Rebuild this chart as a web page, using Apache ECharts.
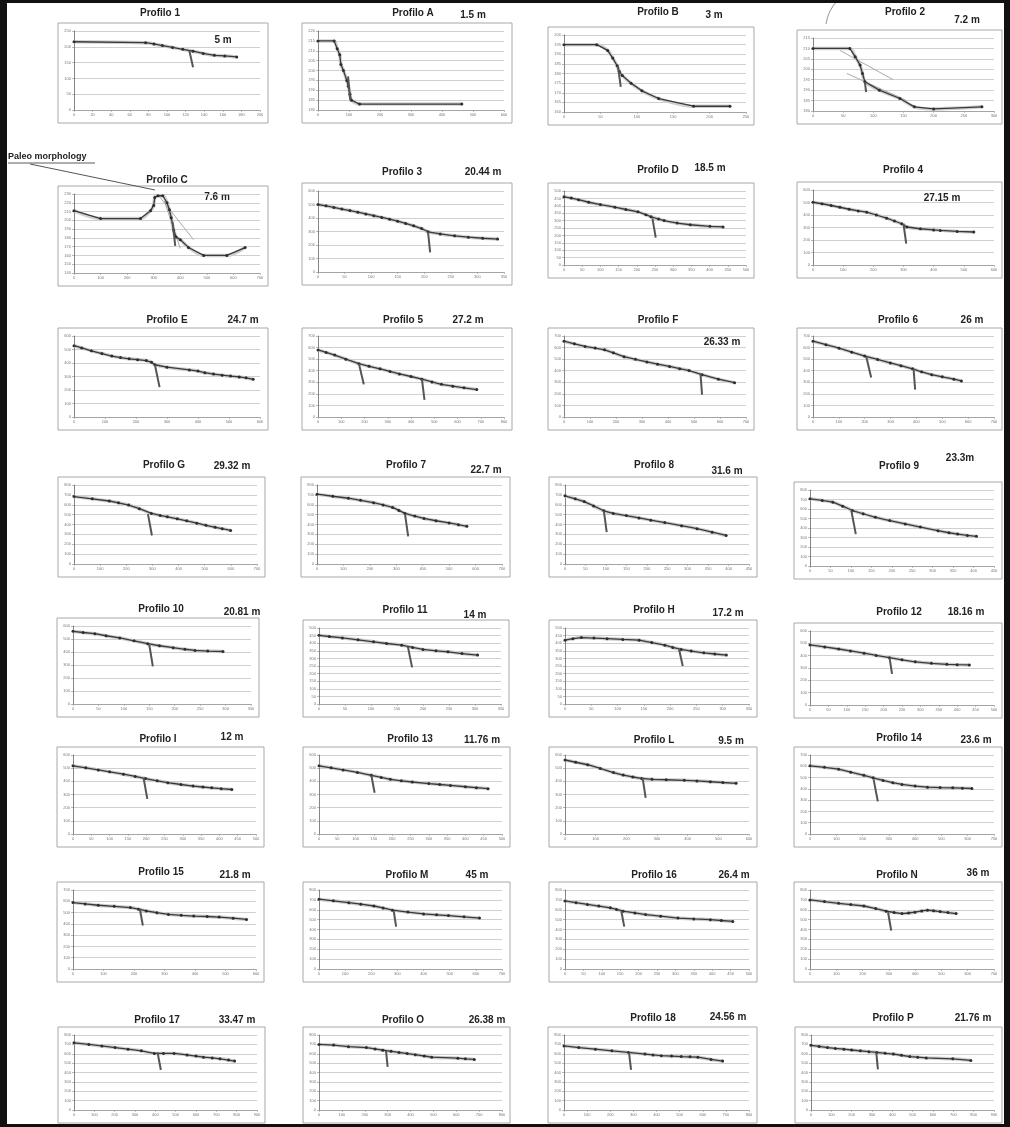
<!DOCTYPE html>
<html><head><meta charset="utf-8">
<script src="https://cdn.jsdelivr.net/npm/echarts@6/dist/echarts.min.js"></script>
<style>html,body{margin:0;padding:0;background:#fff}#c{width:1010px;height:1127px}</style>
</head><body><div id="c"></div>
<script>
// ---------- DATA ----------
const titles = ['Profilo 1','Profilo A','Profilo B','Profilo 2','Profilo C','Profilo 3','Profilo D','Profilo 4',
 'Profilo E','Profilo 5','Profilo F','Profilo 6','Profilo G','Profilo 7','Profilo 8','Profilo 9',
 'Profilo 10','Profilo 11','Profilo H','Profilo 12','Profilo I','Profilo 13','Profilo L','Profilo 14',
 'Profilo 15','Profilo M','Profilo 16','Profilo N','Profilo 17','Profilo O','Profilo 18','Profilo P'];
const depths = ['5 m','1.5 m','3 m','7.2 m','7.6 m','20.44 m','18.5 m','27.15 m',
 '24.7 m','27.2 m','26.33 m','26 m','29.32 m','22.7 m','31.6 m','23.3m',
 '20.81 m','14 m','17.2 m','18.16 m','12 m','11.76 m','9.5 m','23.6 m',
 '21.8 m','45 m','26.4 m','36 m','33.47 m','26.38 m','24.56 m','21.76 m'];
const xMax  = [200,600,250,300,700,350,500,600, 600,800,700,700,700,700,450,450, 350,350,350,500,500,500,600,700, 600,700,500,700,900,800,800,900];
const xStep = [20,100,50,50,100,50,50,100, 100,100,100,100,100,100,50,50, 50,50,50,50,50,50,100,100, 100,100,50,100,100,100,100,100];
const yMin  = [0,180,160,180,140,0,0,0, 0,0,0,0,0,0,0,0, 0,0,0,0,0,0,0,0, 0,0,0,0,0,0,0,0];
const yMax  = [250,220,200,215,230,600,500,600, 600,700,700,700,800,800,800,800, 600,500,500,600,600,600,600,700, 700,800,800,800,800,800,800,800];
const yStep = [50,5,5,5,10,100,50,100, 100,100,100,100,100,100,100,100, 100,50,50,100,100,100,100,100, 100,100,100,100,100,100,100,100];

const p1 = [[0,216],[77,213],[86,209],[95,204],[106,198],[117,192],[128,186],[139,179],[151,173],[162,171],[175,168]];
const pA = [[0,215],[52,215],[62,211],[70,208],[74,203],[82,200],[93,195],[98,192],[103,188],[108,185],[134,183],[464,183]];
const pB = [[0,195],[45,195],[60,192],[67,188],[73,184],[76,181],[80,179],[92,175],[107,171],[130,167],[178,163],[228,163]];
const p2 = [[0,210],[61,210],[70,206],[78,202],[82,198],[86,194],[110,190],[144,186],[168,182],[200,181],[280,182]];
const pC = [[0,211],[100,202],[250,202],[288,211],[300,217],[304,226],[316,228],[334,228],[350,220],[359,212],[366,203],[375,189],[384,181],[400,178],[431,169],[488,160],[575,160],[644,169]];
const p3 = [[0,500],[15,490],[30,478],[45,466],[60,455],[75,443],[90,430],[105,417],[120,404],[135,391],[150,376],[165,360],[180,342],[195,322],[207,298],[230,282],[257,268],[283,258],[310,250],[338,244]];
const pD = [[0,461],[20,452],[40,441],[68,424],[100,408],[140,391],[170,375],[203,359],[225,340],[239,326],[260,310],[275,300],[311,283],[347,272],[401,261],[437,257]];
const p4 = [[0,502],[30,490],[60,476],[89,462],[120,446],[150,433],[178,423],[210,400],[244,375],[270,352],[294,330],[311,304],[356,290],[400,281],[422,277],[478,269],[533,264]];
const pE = [[0,528],[25,512],[56,490],[90,470],[122,451],[150,440],[178,431],[205,425],[233,418],[250,405],[261,387],[300,369],[372,349],[400,340],[422,328],[450,318],[478,310],[505,303],[533,297],[555,290],[578,279]];
const p5 = [[0,580],[35,558],[72,535],[120,500],[176,461],[220,438],[267,416],[310,394],[350,372],[400,350],[447,327],[490,303],[531,282],[580,266],[628,252],[683,237]];
const pF = [[0,655],[40,632],[81,610],[120,596],[156,581],[190,555],[231,521],[275,498],[319,476],[360,456],[406,437],[445,418],[481,401],[531,366],[594,327],[656,297]];
const p6 = [[0,655],[50,625],[101,595],[150,560],[200,527],[250,497],[299,467],[340,443],[385,416],[420,390],[459,366],[500,347],[545,327],[574,312]];
const pG = [[0,683],[70,660],[135,638],[170,620],[209,597],[250,560],[296,512],[330,492],[357,478],[395,458],[431,437],[470,413],[505,392],[540,372],[567,358],[599,340]];
const p7 = [[0,707],[60,686],[119,666],[165,645],[214,621],[250,598],[286,573],[310,543],[333,512],[370,486],[405,461],[450,438],[500,416],[535,398],[567,382]];
const p8 = [[0,690],[25,660],[47,632],[70,588],[95,539],[118,512],[150,490],[181,467],[210,444],[244,419],[285,388],[323,358],[360,322],[394,289]];
const p9 = [[0,707],[30,690],[56,672],[80,630],[104,584],[130,550],[160,513],[195,478],[233,443],[270,410],[313,372],[340,350],[361,336],[385,322],[407,312]];
const p10 = [[0,559],[20,550],[43,541],[65,525],[92,508],[120,486],[147,464],[170,448],[197,433],[220,421],[240,412],[265,407],[295,404]];
const p11 = [[0,452],[20,444],[45,435],[75,422],[105,409],[130,398],[159,387],[180,372],[200,359],[225,350],[248,343],[275,332],[305,322]];
const pH = [[0,420],[15,430],[31,437],[55,434],[80,430],[110,425],[141,420],[165,404],[190,387],[205,372],[221,359],[240,348],[264,337],[285,329],[307,322]];
const p12 = [[0,487],[40,471],[78,454],[110,438],[147,420],[180,402],[216,384],[250,366],[286,350],[330,338],[372,330],[400,327],[433,325]];
const pI = [[0,518],[35,503],[69,487],[100,472],[138,454],[170,437],[198,421],[230,404],[259,390],[295,376],[328,364],[355,357],[379,351],[405,344],[434,338]];
const p13 = [[0,518],[33,503],[66,487],[105,468],[143,446],[170,430],[195,415],[225,404],[255,395],[300,383],[330,376],[359,369],[400,359],[430,352],[462,344]];
const pL = [[0,562],[35,545],[74,526],[115,498],[158,467],[190,448],[221,433],[250,422],[284,415],[330,412],[389,408],[430,403],[474,397],[515,391],[558,385]];
const p14 = [[0,604],[55,591],[109,574],[155,548],[205,520],[240,498],[278,475],[315,455],[350,439],[400,425],[447,415],[495,411],[543,409],[580,406],[616,403]];
const p15 = [[0,589],[40,577],[83,565],[135,555],[188,544],[215,530],[240,514],[275,499],[313,484],[355,476],[396,469],[440,465],[479,460],[525,450],[569,439]];
const pM = [[0,707],[55,690],[114,672],[160,656],[210,638],[245,618],[281,596],[340,577],[400,558],[450,549],[495,541],[555,528],[614,516]];
const p16 = [[0,689],[30,672],[61,654],[92,637],[123,620],[140,603],[158,585],[190,568],[219,551],[260,535],[307,516],[350,507],[395,499],[425,491],[456,482]];
const pN = [[0,700],[55,683],[109,665],[155,652],[205,638],[250,612],[290,585],[320,572],[350,561],[375,567],[399,575],[425,588],[447,596],[470,590],[495,582],[525,571],[556,561]];
const p17 = [[0,717],[73,700],[137,683],[202,666],[266,649],[331,631],[395,604],[440,604],[492,604],[556,587],[600,575],[637,563],[680,556],[718,546],[760,533],[790,522]];
const pO = [[0,700],[64,693],[129,676],[207,666],[245,652],[279,638],[315,626],[350,614],[385,602],[421,590],[460,576],[493,563],[607,553],[640,546],[679,539]];
const p18 = [[0,683],[64,666],[136,649],[207,631],[279,614],[350,597],[385,588],[421,580],[465,575],[507,570],[545,567],[579,563],[636,539],[686,522]];
const pP = [[0,690],[40,678],[81,666],[120,657],[162,649],[200,640],[243,631],[285,622],[324,614],[365,605],[405,597],[445,584],[486,570],[525,563],[567,556],[697,546],[786,529]];

// depth markers (scarp / sliding-surface segments)
const m1=[[124,188],[128,135]], mA=[[97,197],[104,185]], mB=[[74,184],[78,173]], m2=[[86,194],[88,189]];
const mC=[[371,198],[381,171]], m3=[[207,298],[211,146]], mD=[[243,315],[252,185]], m4=[[300,330],[309,171]];
const mE=[[261,387],[276,221]], m5a=[[176,461],[197,282]], m5b=[[447,327],[458,149]], mF=[[525,372],[531,193]];
const m6a=[[206,521],[225,342]], m6b=[[389,416],[395,237]], mG=[[283,505],[298,289]], m7=[[333,505],[345,279]];
const m8=[[95,539],[102,323]], m9=[[101,584],[112,336]], m10=[[150,456],[157,289]], m11=[[171,376],[179,241]];
const mH=[[217,359],[224,250]], m12=[[216,384],[223,252]], mI=[[193,423],[203,267]], m13=[[143,446],[152,313]];
const mL=[[253,428],[263,274]], m14=[[242,484],[258,289]], m15=[[219,535],[229,385]], mM=[[286,585],[295,429]];
const m16=[[153,585],[161,429]], mN=[[297,575],[309,388]], m17=[[411,614],[427,427]], mO=[[293,631],[300,461]];
const m18=[[281,614],[290,427]], mP=[[321,614],[329,433]];

// light construction lines
const g2a=[[45,209],[133,195]], g2b=[[56,198],[155,185]];
const gCa=[[319,228],[450,178]], gCb=[[340,222],[400,168]];

const profiles = [p1,pA,pB,p2,pC,p3,pD,p4,pE,p5,pF,p6,pG,p7,p8,p9,p10,p11,pH,p12,pI,p13,pL,p14,p15,pM,p16,pN,p17,pO,p18,pP];
const markers = [[m1],[mA],[mB],[m2],[mC],[m3],[mD],[m4],[mE],[m5a,m5b],[mF],[m6a,m6b],[mG],[m7],[m8],[m9],
 [m10],[m11],[mH],[m12],[mI],[m13],[mL],[m14],[m15],[mM],[m16],[mN],[m17],[mO],[m18],[mP]];
const guides = [[],[],[],[g2a,g2b],[gCa,gCb]];

// ---------- LAYOUT ----------
const boxes = [[58,23,210,100],[302,23,210,100],[548,27,206,98],[797,30,205,94],
 [58,186,210,100],[302,183,210,102],[548,183,206,95],[797,182,205,96],
 [58,328,210,102],[302,328,210,102],[548,328,206,102],[797,328,205,102],
 [58,477,207,100],[301,477,209,100],[549,477,208,100],[794,482,208,97],
 [57,618,202,99],[303,620,206,97],[549,620,208,97],[794,623,208,95],
 [57,747,207,100],[303,747,207,100],[549,747,208,100],[794,747,208,100],
 [57,882,207,100],[303,882,207,100],[549,882,208,100],[794,882,208,100],
 [58,1027,207,96],[303,1027,207,96],[548,1027,209,96],[795,1027,207,96]];
const titlePos = [[160,13],[413,13],[658,12],[905,12],[167,180],[402,172],[658,170],[903,170],
 [167,320],[403,320],[658,320],[898,320],[164,465],[406,465],[654,465],[899,466],
 [161,609],[405,610],[654,610],[899,612],[158,739],[410,739],[654,740],[899,738],
 [161,872],[407,875],[654,875],[897,875],[157,1020],[403,1020],[653,1018],[893,1018]];
const depthPos = [[223,40],[473,15],[714,15],[967,20],[217,197],[483,172],[710,168],[942,198],
 [243,320],[468,320],[722,342],[972,320],[232,466],[486,470],[727,471],[960,458],
 [242,612],[475,615],[728,613],[966,612],[232,737],[482,740],[731,741],[976,740],
 [235,875],[477,875],[734,875],[978,873],[237,1020],[487,1020],[728,1017],[973,1018]];

const option = {animation:false, backgroundColor:'#fff', grid:[], xAxis:[], yAxis:[], series:[], graphic:[]};
const FONT = 'bold 10px "Liberation Sans", Arial, sans-serif';

for (let i = 0; i < 32; i++) {
  const [bx,by,bw,bh] = boxes[i];
  option.grid.push({left:bx+16, top:by+8, width:bw-24, height:bh-21, show:false});
  option.xAxis.push({type:'value', gridIndex:i, min:0, max:xMax[i], interval:xStep[i],
    axisLine:{show:true,onZero:false,lineStyle:{color:'#999',width:0.8}},
    axisTick:{show:true,length:2,lineStyle:{color:'#999',width:0.6}},
    axisLabel:{fontSize:4,color:'#777',margin:3,fontFamily:'Liberation Sans'},
    splitLine:{show:false}});
  option.yAxis.push({type:'value', gridIndex:i, min:yMin[i], max:yMax[i], interval:yStep[i],
    axisLine:{show:true,lineStyle:{color:'#666',width:0.8}},
    axisTick:{show:true,length:2,lineStyle:{color:'#888',width:0.6}},
    axisLabel:{fontSize:4,color:'#777',margin:3,fontFamily:'Liberation Sans'},
    splitLine:{show:true,lineStyle:{color:'#bcbcbc',width:0.7}}});
  // smoothed light trend behind
  option.series.push({type:'line', xAxisIndex:i, yAxisIndex:i, data:profiles[i], smooth:0.3, symbol:'none',
    lineStyle:{color:'#cfcfcf',width:3.5}, z:1, silent:true});
  (guides[i]||[]).forEach(g => option.series.push({type:'line', xAxisIndex:i, yAxisIndex:i, data:g, symbol:'none',
    lineStyle:{color:'#aaa',width:1}, z:2, silent:true}));
  option.series.push({type:'line', xAxisIndex:i, yAxisIndex:i, data:profiles[i], symbol:'circle', symbolSize:3,
    itemStyle:{color:'#2e2e2e'}, lineStyle:{color:'#3a3a3a',width:1.3}, z:3, silent:true});
  markers[i].forEach(m => option.series.push({type:'line', xAxisIndex:i, yAxisIndex:i, data:m, symbol:'none',
    lineStyle:{color:'#555',width:2}, z:4, silent:true}));
  option.graphic.push({type:'rect', shape:{x:bx,y:by,width:bw,height:bh}, style:{fill:'none',stroke:'#a8a8a8',lineWidth:1}, z:-1});
  option.graphic.push({type:'text', x:titlePos[i][0], y:titlePos[i][1], style:{text:titles[i], font:FONT, fill:'#222', align:'center', verticalAlign:'middle'}});
  option.graphic.push({type:'text', x:depthPos[i][0], y:depthPos[i][1], style:{text:depths[i], font:FONT, fill:'#222', align:'center', verticalAlign:'middle'}});
}

// annotation and page frame
option.graphic.push({type:'text', x:8, y:157, style:{text:'Paleo morphology', font:'bold 9px "Liberation Sans", Arial, sans-serif', fill:'#222', verticalAlign:'middle'}});
option.graphic.push({type:'line', shape:{x1:8,y1:163,x2:95,y2:163}, style:{stroke:'#333',lineWidth:0.8}});
option.graphic.push({type:'line', shape:{x1:30,y1:164,x2:155,y2:190}, style:{stroke:'#555',lineWidth:1}});
option.graphic.push({type:'bezierCurve', shape:{x1:826,y1:24,x2:838,y2:0,cpx1:828,cpy1:10}, style:{stroke:'#777',lineWidth:0.8,fill:'none'}});
option.graphic.push({type:'rect', shape:{x:0,y:0,width:7,height:1127}, style:{fill:'#111'}});
option.graphic.push({type:'rect', shape:{x:0,y:0,width:1010,height:3}, style:{fill:'#111'}});
option.graphic.push({type:'rect', shape:{x:1004,y:0,width:6,height:1127}, style:{fill:'#111'}});
option.graphic.push({type:'rect', shape:{x:0,y:1124,width:1010,height:3}, style:{fill:'#111'}});

const chart = echarts.init(document.getElementById('c'), null, {renderer:'canvas'});
chart.setOption(option);
</script>
</body></html>
